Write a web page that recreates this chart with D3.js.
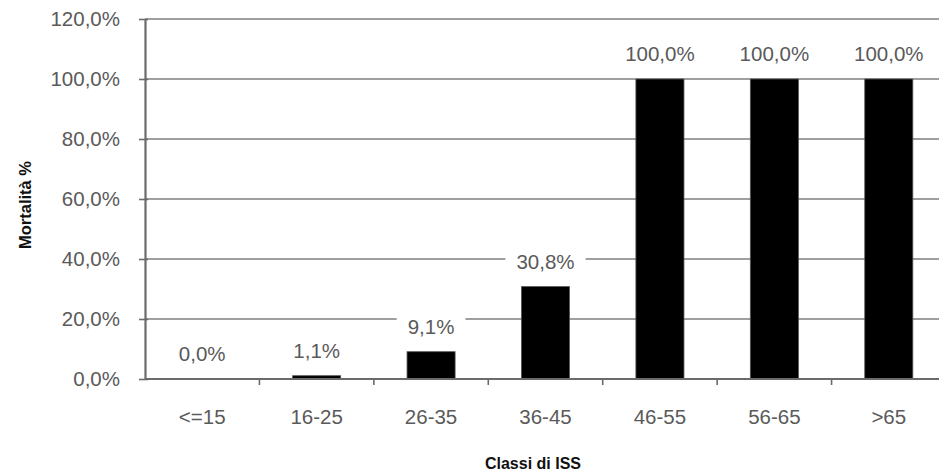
<!DOCTYPE html>
<html>
<head>
<meta charset="utf-8">
<script src="https://cdn.jsdelivr.net/npm/d3@7"></script>
<style>
  html, body { margin: 0; padding: 0; background: #fff; }
  svg { display: block; }
  text { font-family: "Liberation Sans", Arial, sans-serif; }
</style>
</head>
<body>
<script>
// Mortality by ISS class
const categories = ["<=15", "16-25", "26-35", "36-45", "46-55", "56-65", ">65"];
const mortality = [0.0, 1.1, 9.1, 30.8, 100.0, 100.0, 100.0];
const yTicks = [0, 20, 40, 60, 80, 100, 120];
const yTitle = "Mortalità %";
const xTitle = "Classi di ISS";

const W = 939, H = 473;
const plotLeft = 145, plotRight = 946, plotTop = 19, plotBottom = 379;
const fontSize = 20.5;

const fmt = v => v.toFixed(1).replace(".", ",") + "%";

const svg = d3.select("body").append("svg")
  .attr("width", W).attr("height", H);

const x = d3.scaleBand()
  .domain(categories)
  .range([plotLeft, plotRight])
  .paddingInner(0.58)
  .paddingOuter(0.29);

const y = d3.scaleLinear().domain([0, 120]).range([plotBottom, plotTop]);

// horizontal gridlines
svg.append("g").selectAll("line")
  .data(yTicks.filter(t => t > 0))
  .join("line")
  .attr("x1", plotLeft).attr("x2", W)
  .attr("y1", d => y(d)).attr("y2", d => y(d))
  .attr("stroke", "#7f7f7f").attr("stroke-width", 1.5);

// y axis
const yAxis = d3.axisLeft(y).tickValues(yTicks).tickSize(6).tickSizeOuter(0)
  .tickFormat(fmt);
const gy = svg.append("g").attr("transform", `translate(${plotLeft},0)`).call(yAxis);
gy.select(".domain").attr("stroke", "#6b6b6b").attr("stroke-width", 2.2);
gy.selectAll(".tick line").attr("stroke", "#6b6b6b").attr("stroke-width", 1.6)
  .attr("x2", -6).attr("x1", 3);
gy.selectAll(".tick text")
  .attr("x", -25)
  .attr("fill", "#5a5a5a")
  .attr("font-size", fontSize)
  .attr("font-family", "Liberation Sans, Arial, sans-serif");

// category labels under the axis
const step = x.step();
const gap = step * x.paddingInner() / 2;
svg.append("g").selectAll("text")
  .data(categories)
  .join("text")
  .attr("x", d => x(d) + x.bandwidth() / 2)
  .attr("y", 424)
  .attr("text-anchor", "middle")
  .attr("fill", "#5a5a5a")
  .attr("font-size", fontSize)
  .text(d => d);

// bars
svg.append("g").selectAll("rect")
  .data(categories.map((c, i) => ({ c, v: mortality[i] })))
  .join("rect")
  .attr("x", d => x(d.c))
  .attr("width", x.bandwidth())
  .attr("y", d => y(d.v))
  .attr("height", d => y(0) - y(d.v))
  .attr("fill", "#000")
  .attr("stroke", "#555")
  .attr("stroke-width", 0.8);

// x axis line with separators between classes
svg.append("line")
  .attr("x1", plotLeft).attr("x2", W)
  .attr("y1", plotBottom).attr("y2", plotBottom)
  .attr("stroke", "#6b6b6b").attr("stroke-width", 2);
svg.append("g").selectAll("line")
  .data(categories.slice(1))
  .join("line")
  .attr("x1", d => x(d) - gap).attr("x2", d => x(d) - gap)
  .attr("y1", plotBottom).attr("y2", plotBottom + 6)
  .attr("stroke", "#6b6b6b").attr("stroke-width", 1.6);

// value labels with white backing sized to the text
const lbl = svg.append("g").selectAll("g")
  .data(categories.map((c, i) => ({ c, v: mortality[i] })))
  .join("g")
  .attr("transform", d => `translate(${x(d.c) + x.bandwidth() / 2},${y(d.v) - 25})`);
const bg = lbl.append("rect").attr("fill", "#fff");
const txt = lbl.append("text")
  .attr("text-anchor", "middle")
  .attr("dy", "0.35em")
  .attr("fill", "#5a5a5a")
  .attr("font-size", fontSize)
  .text(d => fmt(d.v));
txt.each(function () {
  const w = this.getComputedTextLength() + 22;
  d3.select(this.parentNode).select("rect")
    .attr("x", -w / 2).attr("width", w)
    .attr("y", -13).attr("height", 26);
});

// axis titles
svg.append("text")
  .attr("transform", `translate(31,205) rotate(-90)`)
  .attr("text-anchor", "middle")
  .attr("font-weight", "bold")
  .attr("font-size", 16.5)
  .attr("fill", "#111")
  .text(yTitle);
svg.append("text")
  .attr("x", 533).attr("y", 469)
  .attr("text-anchor", "middle")
  .attr("font-weight", "bold")
  .attr("font-size", 16)
  .attr("fill", "#111")
  .text(xTitle);
</script>
</body>
</html>
